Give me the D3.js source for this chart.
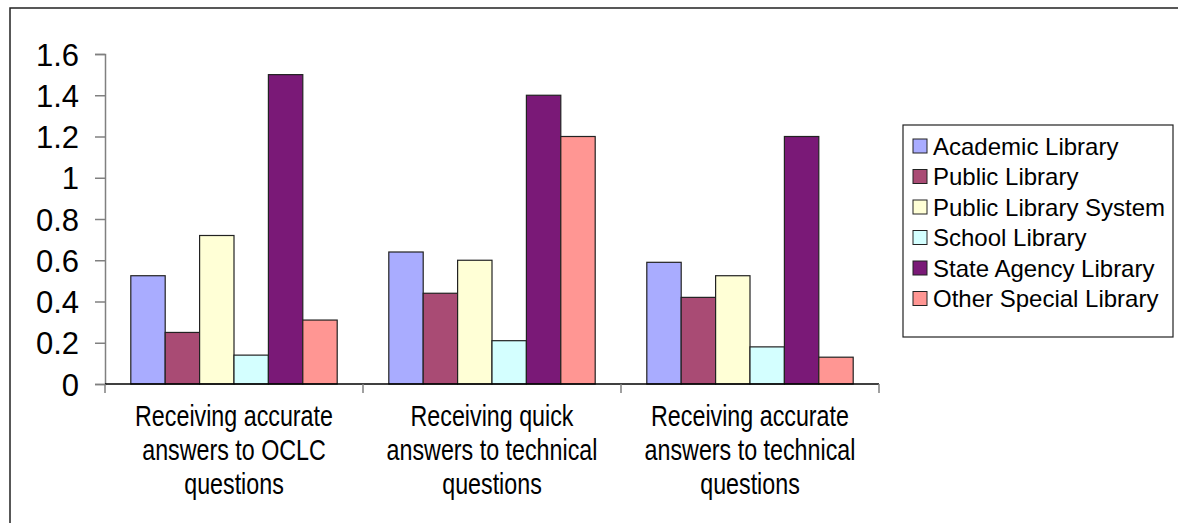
<!DOCTYPE html>
<html>
<head>
<meta charset="utf-8">
<script src="https://cdn.jsdelivr.net/npm/d3@7"></script>
<style>
  html, body { margin: 0; padding: 0; background: #fff; }
  svg { display: block; }
  text { font-family: "Liberation Sans", Arial, sans-serif; fill: #000; }
</style>
</head>
<body>
<svg id="chart" width="1178" height="523"></svg>
<script>
// Survey topics shown along the category axis
const categories = [
  ["Receiving accurate", "answers to OCLC", "questions"],
  ["Receiving quick", "answers to technical", "questions"],
  ["Receiving accurate", "answers to technical", "questions"]
];

// Library types (series) and their fills
const seriesNames = [
  "Academic Library",
  "Public Library",
  "Public Library System",
  "School Library",
  "State Agency Library",
  "Other Special Library"
];
const seriesColors = ["#a9acff", "#a94b74", "#ffffd6", "#d4ffff", "#7a1977", "#ff9693"];

// One value per category for each library type
const academic   = [0.525, 0.64, 0.59];
const publicLib  = [0.25, 0.44, 0.42];
const publicSys  = [0.72, 0.60, 0.525];
const school     = [0.14, 0.21, 0.18];
const stateAgency = [1.5, 1.4, 1.2];
const otherSpecial = [0.31, 1.2, 0.13];
const seriesValues = [academic, publicLib, publicSys, school, stateAgency, otherSpecial];

const yTicks = [0, 0.2, 0.4, 0.6, 0.8, 1, 1.2, 1.4, 1.6];

const svg = d3.select("#chart");

// Outer chart frame (left and top edges)
svg.append("path")
  .attr("d", "M10,523 L10,8 L1178,8")
  .attr("fill", "none")
  .attr("stroke", "#222")
  .attr("stroke-width", 1.5);

const plot = { left: 105, right: 879, top: 54, bottom: 384 };

const x0 = d3.scaleBand()
  .domain(d3.range(categories.length))
  .range([plot.left, plot.right])
  .paddingInner(0).paddingOuter(0);

// Six bars per group with a 150% gap: 7.5 bar widths per category
const x1 = d3.scaleBand()
  .domain(d3.range(seriesNames.length))
  .range([0, x0.bandwidth()])
  .paddingInner(0)
  .paddingOuter(0.75);

const y = d3.scaleLinear().domain([0, 1.6]).range([plot.bottom, plot.top]);

// Y axis
const yAxis = d3.axisLeft(y)
  .tickValues(yTicks)
  .tickSize(10)
  .tickPadding(16)
  .tickFormat(d => d3.format("")(d));
const gy = svg.append("g")
  .attr("transform", `translate(${plot.left},0)`)
  .call(yAxis);
gy.select(".domain").attr("stroke", "#808080").attr("stroke-width", 1.5);
gy.selectAll(".tick line").attr("stroke", "#808080").attr("stroke-width", 1.5);
gy.selectAll(".tick text")
  .style("font-family", '"Liberation Sans", Arial, sans-serif')
  .style("font-size", "31px")
  .attr("dy", "0.36em")
  .attr("fill", "#000");

// Bars
const groups = svg.append("g")
  .selectAll("g")
  .data(categories.map((c, i) => i))
  .join("g")
  .attr("transform", i => `translate(${x0(i)},0)`);

groups.selectAll("rect")
  .data(i => seriesValues.map((vals, s) => ({ s, v: vals[i] })))
  .join("rect")
  .attr("x", d => x1(d.s))
  .attr("y", d => y(d.v))
  .attr("width", x1.bandwidth())
  .attr("height", d => y(0) - y(d.v))
  .attr("fill", d => seriesColors[d.s])
  .attr("stroke", "#222")
  .attr("stroke-width", 1.2);

// X axis with ticks between categories
const gx = svg.append("g").attr("transform", `translate(0,${plot.bottom})`);
gx.append("line")
  .attr("x1", plot.left).attr("x2", plot.right)
  .attr("stroke", "#000").attr("stroke-width", 1.5);
gx.selectAll("line.tick")
  .data(d3.range(categories.length + 1))
  .join("line")
  .attr("class", "tick")
  .attr("x1", i => plot.left + i * x0.step())
  .attr("x2", i => plot.left + i * x0.step())
  .attr("y1", 0).attr("y2", 9)
  .attr("stroke", "#808080").attr("stroke-width", 1.5);

// Category labels, three lines each (slightly tall glyphs)
const labels = svg.append("g")
  .selectAll("text")
  .data(categories)
  .join("text")
  .attr("text-anchor", "middle")
  .style("font-size", "24px")
  .attr("transform", (d, i) => `translate(${x0(i) + x0.bandwidth() / 2},0) scale(0.97,1.2)`);
labels.selectAll("tspan")
  .data(d => d)
  .join("tspan")
  .attr("x", 0)
  .attr("y", (d, j) => (426 + j * 34) / 1.2)
  .text(d => d);

// Legend
const legend = svg.append("g");
legend.append("rect")
  .attr("x", 903).attr("y", 125)
  .attr("width", 270).attr("height", 212)
  .attr("fill", "#fff")
  .attr("stroke", "#222")
  .attr("stroke-width", 1.2);
const items = legend.selectAll("g.item")
  .data(seriesNames)
  .join("g")
  .attr("class", "item")
  .attr("transform", (d, i) => `translate(913,${146 + i * 30.5})`);
items.append("rect")
  .attr("x", 0).attr("y", -7)
  .attr("width", 14).attr("height", 14)
  .attr("fill", (d, i) => seriesColors[i])
  .attr("stroke", "#222")
  .attr("stroke-width", 1);
items.append("text")
  .attr("x", 20)
  .attr("dy", "0.36em")
  .style("font-size", "24px")
  .text(d => d);
</script>
</body>
</html>
